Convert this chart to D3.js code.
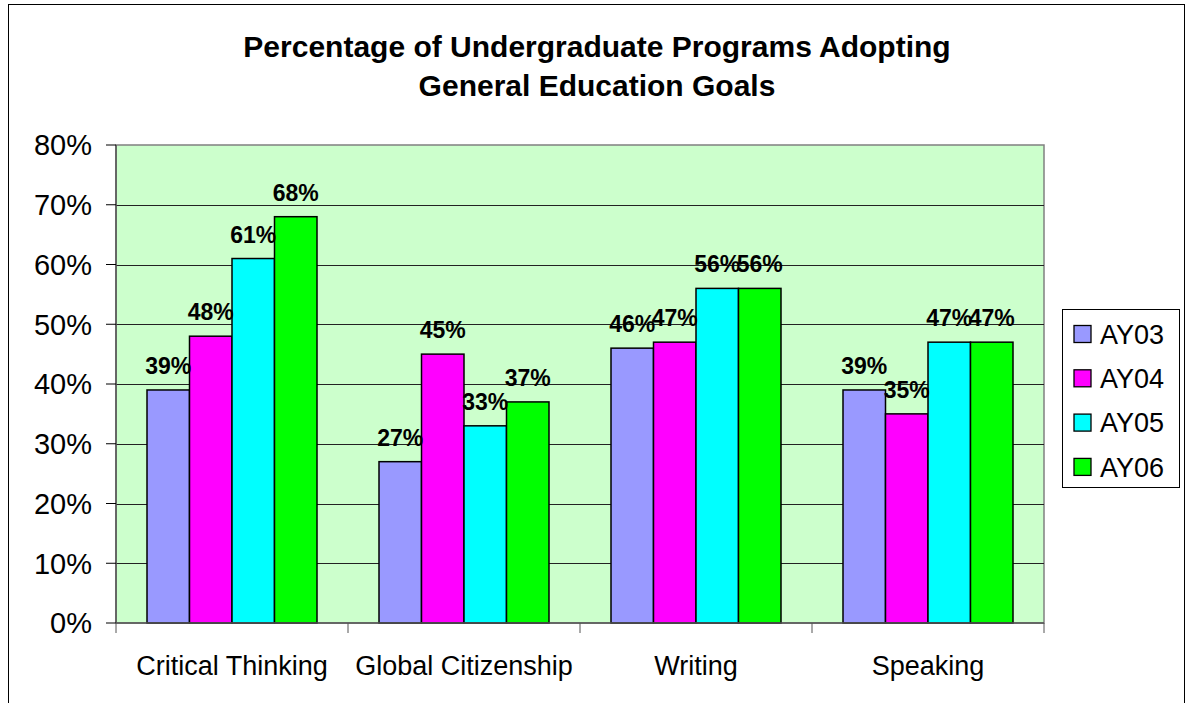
<!DOCTYPE html>
<html><head><meta charset="utf-8">
<script src="https://cdn.jsdelivr.net/npm/d3@7/dist/d3.min.js"></script>
<style>body{margin:0;background:#fff}svg{display:block;font-family:"Liberation Sans",Arial,sans-serif}</style>
</head><body><svg id="c" width="1188" height="703"></svg>
<script>
const categories = ["Critical Thinking","Global Citizenship","Writing","Speaking"];
const seriesNames = ["AY03","AY04","AY05","AY06"];
const AY03 = [39,27,46,39];
const AY04 = [48,45,47,35];
const AY05 = [61,33,56,47];
const AY06 = [68,37,56,47];
const colors = ["#9999FF","#FF00FF","#00FFFF","#00FF00"];
const yTicks = [0,10,20,30,40,50,60,70,80];
const titleLines = ["Percentage of Undergraduate Programs Adopting","General Education Goals"];
const seriesValues = [AY03,AY04,AY05,AY06];

const svg = d3.select("#c");
svg.append("rect").attr("x",8.5).attr("y",4.5).attr("width",1176).attr("height",710)
  .attr("fill","#fff").attr("stroke","#000").attr("stroke-width",1);

const L=116, R=1044, T=145, B=623;
const x0 = d3.scaleBand().domain(categories).range([L,R]).paddingInner(0).paddingOuter(0);
const x1 = d3.scaleBand().domain(seriesNames).range([31, x0.bandwidth()-31]);
const y = d3.scaleLinear().domain([0,80]).range([B,T]);

svg.append("rect").attr("x",L).attr("y",T).attr("width",R-L).attr("height",B-T)
  .attr("fill","#CCFFCC").attr("stroke","#808080").attr("stroke-width",1.5);

svg.append("g").selectAll("line").data(yTicks.slice(1,-1)).join("line")
  .attr("x1",L).attr("x2",R).attr("y1",d=>Math.round(y(d))+0.5).attr("y2",d=>Math.round(y(d))+0.5)
  .attr("stroke","#222").attr("stroke-width",1);

const groups = svg.append("g").selectAll("g").data(categories).join("g")
  .attr("transform",d=>`translate(${x0(d)},0)`);
groups.selectAll("rect").data((c,i)=>seriesNames.map((s,j)=>({s,v:seriesValues[j][i],j})))
  .join("rect")
  .attr("x",d=>x1(d.s)).attr("width",x1.bandwidth())
  .attr("y",d=>y(d.v)).attr("height",d=>B-y(d.v))
  .attr("fill",d=>colors[d.j]).attr("stroke","#000").attr("stroke-width",1.5);

// axes
const yAxis = svg.append("g").attr("transform",`translate(${L},0)`);
yAxis.append("line").attr("x1",0).attr("x2",0).attr("y1",T).attr("y2",B).attr("stroke","#555").attr("stroke-width",1.5);
yAxis.selectAll("line.t").data(yTicks).join("line").attr("class","t")
  .attr("x1",-10).attr("x2",0).attr("y1",d=>y(d)).attr("y2",d=>y(d)).attr("stroke","#000");
yAxis.selectAll("text").data(yTicks).join("text")
  .attr("x",-24).attr("y",d=>y(d)).attr("dy","0.36em").attr("text-anchor","end")
  .attr("font-size",29).text(d=>d+"%");

const xAxis = svg.append("g");
xAxis.append("line").attr("x1",L).attr("x2",R).attr("y1",B).attr("y2",B).attr("stroke","#555").attr("stroke-width",1.5);
xAxis.selectAll("line.t").data(categories.map(c=>x0(c)).concat([R])).join("line").attr("class","t")
  .attr("x1",d=>d).attr("x2",d=>d).attr("y1",B).attr("y2",B+10).attr("stroke","#555");
xAxis.selectAll("text").data(categories).join("text")
  .attr("x",d=>x0(d)+x0.bandwidth()/2).attr("y",675).attr("text-anchor","middle")
  .attr("font-size",27).text(d=>d);

// data labels
groups.selectAll("text").data((c,i)=>seriesNames.map((s,j)=>({s,v:seriesValues[j][i],j})))
  .join("text")
  .attr("x",d=>x1(d.s)+x1.bandwidth()/2).attr("y",d=>y(d.v)-16)
  .attr("text-anchor","middle").attr("font-size",23).attr("font-weight","bold")
  .text(d=>d.v+"%");

// title
svg.append("g").selectAll("text").data(titleLines).join("text")
  .attr("x",597).attr("y",(d,i)=>57+i*39).attr("text-anchor","middle")
  .attr("font-size",30).attr("font-weight","bold").text(d=>d);

// legend
const lg = svg.append("g");
lg.append("rect").attr("x",1062.5).attr("y",309.5).attr("width",117).attr("height",178)
  .attr("fill","#fff").attr("stroke","#000");
seriesNames.forEach((s,i)=>{
  const yy = 334 + i*44.3;
  lg.append("rect").attr("x",1074).attr("y",yy-8.5).attr("width",17).attr("height",17)
    .attr("fill",colors[i]).attr("stroke","#000").attr("stroke-width",1.3);
  lg.append("text").attr("x",1100).attr("y",yy).attr("dy","0.36em").attr("font-size",27).text(s);
});
</script></body></html>
